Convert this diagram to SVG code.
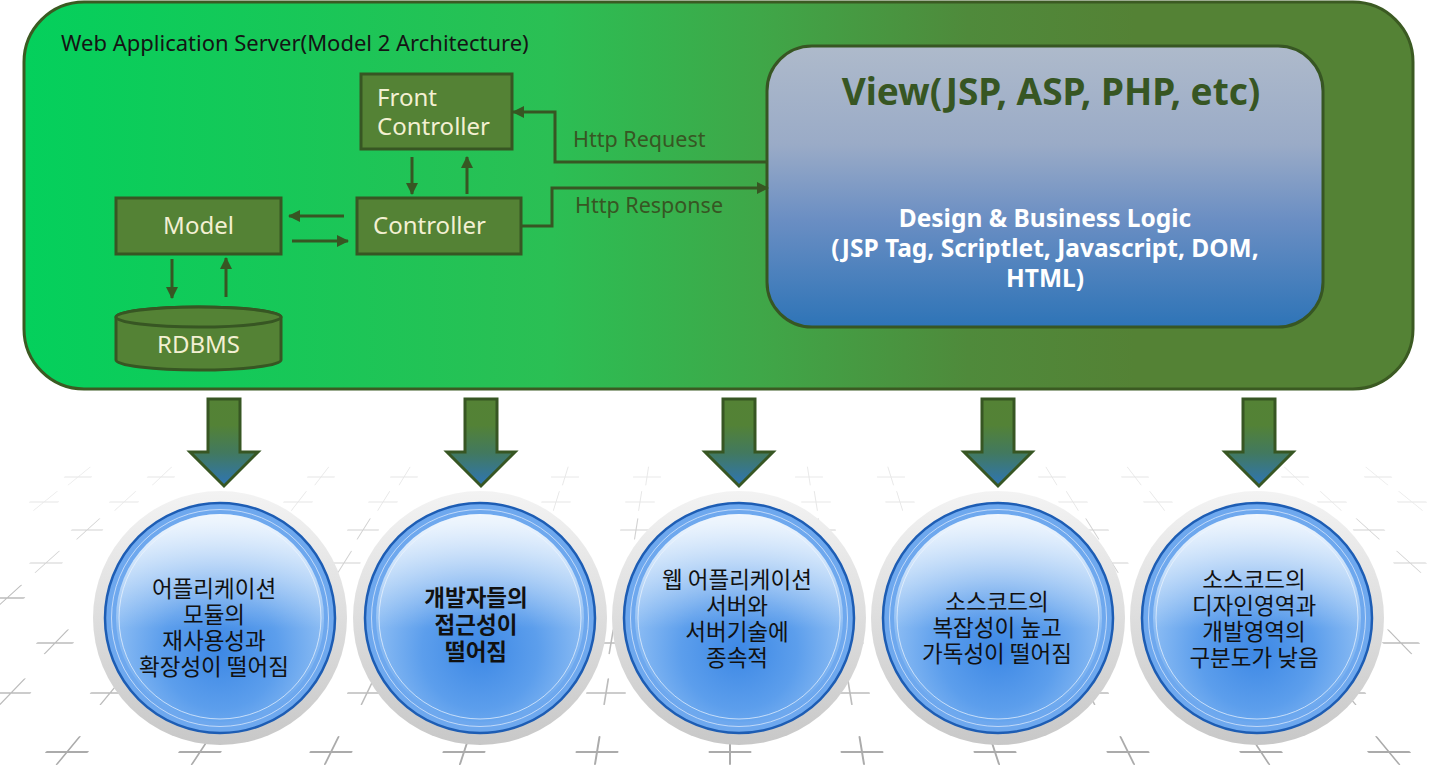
<svg xmlns="http://www.w3.org/2000/svg" width="1433" height="780" viewBox="0 0 1433 780">
<style>
.box{fill:#548235;stroke:#375623;stroke-width:3}
.bt{font-family:"Noto Sans","Liberation Sans",sans-serif;font-size:24px;fill:#f3f0d2}
.lbl{font-family:"Noto Sans","Liberation Sans",sans-serif;font-size:21.5px;fill:#375623}
.ln{fill:none;stroke:#375623;stroke-width:3;marker-end:url(#ah)}
.kt{font-family:"Noto Sans CJK KR","Noto Sans",sans-serif;font-size:22.5px;fill:#111;text-anchor:middle}
.cr{fill:none;stroke-linecap:round}
</style>
<defs>
<linearGradient id="gWas" gradientUnits="userSpaceOnUse" x1="24" y1="0" x2="1413" y2="0">
<stop offset="0" stop-color="#04d05c"/>
<stop offset="0.38" stop-color="#2bbf54"/>
<stop offset="0.53" stop-color="#3fa748"/>
<stop offset="0.68" stop-color="#4f8a3b"/>
<stop offset="0.8" stop-color="#548235"/>
<stop offset="1" stop-color="#548235"/>
</linearGradient>
<linearGradient id="gView" x1="0" y1="0" x2="0" y2="1">
<stop offset="0" stop-color="#aebacb"/>
<stop offset="0.35" stop-color="#9aabc7"/>
<stop offset="0.62" stop-color="#6a8ec3"/>
<stop offset="1" stop-color="#2e74b7"/>
</linearGradient>
<linearGradient id="gArrow" x1="0" y1="0" x2="0" y2="1">
<stop offset="0" stop-color="#548235"/>
<stop offset="0.3" stop-color="#538236"/>
<stop offset="0.62" stop-color="#42795f"/>
<stop offset="1" stop-color="#2e75b6"/>
</linearGradient>
<linearGradient id="gHalo" x1="0" y1="0" x2="0" y2="1">
<stop offset="0" stop-color="#f3f3f3"/>
<stop offset="1" stop-color="#c8c8c8"/>
</linearGradient>
<radialGradient id="gInner" cx="0.5" cy="0.66" r="0.62">
<stop offset="0" stop-color="#3d88e5"/>
<stop offset="0.45" stop-color="#5c9eec"/>
<stop offset="1" stop-color="#a3cbf7"/>
</radialGradient>
<linearGradient id="gShine" x1="0" y1="0" x2="0" y2="1">
<stop offset="0" stop-color="#ffffff" stop-opacity="0.85"/>
<stop offset="0.55" stop-color="#ffffff" stop-opacity="0"/>
</linearGradient>
<marker id="ah" viewBox="0 0 12 12" refX="11" refY="6" markerWidth="12" markerHeight="12" markerUnits="userSpaceOnUse" orient="auto">
<path d="M0,0 L12,6 L0,12 z" fill="#375623"/>
</marker>
<g id="bubble">
<circle r="127" fill="url(#gHalo)"/>
<circle r="115" fill="#6ea8ee" stroke="#1d5db4" stroke-width="2.5"/>
<circle r="108.5" fill="none" stroke="#d4e5fb" stroke-width="1" opacity="0.8"/>
<circle r="104" fill="url(#gInner)"/>
<circle r="104" fill="url(#gShine)"/>
<circle r="101" fill="none" stroke="#eef5fe" stroke-width="1" opacity="0.7"/>
</g>
<path id="cr" d="M-20.5,0H20.5M0,-15V12"/>
</defs>

<rect width="1433" height="780" fill="#ffffff"/>

<g id="floor" class="cr">
<g stroke="#ababab" stroke-width="2">
<use href="#cr" transform="translate(67,752) skewX(-39.5)"/>
<use href="#cr" transform="translate(200,752) skewX(-33.4)"/>
<use href="#cr" transform="translate(331,752) skewX(-26.3)"/>
<use href="#cr" transform="translate(464,752) skewX(-18.2)"/>
<use href="#cr" transform="translate(597,752) skewX(-9.3)"/>
<use href="#cr" transform="translate(730,752)"/>
<use href="#cr" transform="translate(862,752) skewX(9.3)"/>
<use href="#cr" transform="translate(995,752) skewX(18.2)"/>
<use href="#cr" transform="translate(1128,752) skewX(26.3)"/>
<use href="#cr" transform="translate(1261,752) skewX(33.4)"/>
<use href="#cr" transform="translate(1389,752) skewX(39.5)"/>
</g>
<g stroke="#bcbcbc" stroke-width="1.8">
<use href="#cr" transform="translate(11,693) scale(0.93) skewX(-44)"/>
<use href="#cr" transform="translate(110,693) scale(0.93) skewX(-39.8)"/>
<use href="#cr" transform="translate(367,693) scale(0.93) skewX(-25.9)"/>
<use href="#cr" transform="translate(606,693) scale(0.93) skewX(-9.3)"/>
<use href="#cr" transform="translate(850,693) scale(0.93) skewX(9.3)"/>
<use href="#cr" transform="translate(1089,693) scale(0.93) skewX(25.9)"/>
<use href="#cr" transform="translate(1346,693) scale(0.93) skewX(39.8)"/>
<use href="#cr" transform="translate(55,643) scale(0.87) skewX(-44.2)"/>
<use href="#cr" transform="translate(611,643) scale(0.87) skewX(-9.6)"/>
<use href="#cr" transform="translate(845,643) scale(0.87) skewX(9.6)"/>
<use href="#cr" transform="translate(1401,643) scale(0.87) skewX(44.2)"/>
<use href="#cr" transform="translate(7,598) scale(0.83) skewX(-48)"/>
</g>
<g stroke="#d2d2d2" stroke-width="1.5">
<use href="#cr" transform="translate(46,563) scale(0.78) skewX(-48)"/>
<use href="#cr" transform="translate(344,563) scale(0.78) skewX(-32)"/>
<use href="#cr" transform="translate(1112,563) scale(0.78) skewX(32)"/>
<use href="#cr" transform="translate(1410,563) scale(0.78) skewX(48)"/>
<use href="#cr" transform="translate(87,530) scale(0.75) skewX(-47.9)"/>
<use href="#cr" transform="translate(363,530) scale(0.75) skewX(-32.2)"/>
<use href="#cr" transform="translate(636,530) scale(0.75) skewX(-9)"/>
<use href="#cr" transform="translate(820,530) scale(0.75) skewX(9)"/>
<use href="#cr" transform="translate(1093,530) scale(0.75) skewX(32.2)"/>
<use href="#cr" transform="translate(1369,530) scale(0.75) skewX(47.9)"/>
</g>
<g stroke="#e6e6e6" stroke-width="1.3">
<use href="#cr" transform="translate(44,502) scale(0.7) skewX(-51)"/>
<use href="#cr" transform="translate(124,502) scale(0.7) skewX(-47.6)"/>
<use href="#cr" transform="translate(298,502) scale(0.7) skewX(-37.9)"/>
<use href="#cr" transform="translate(383,502) scale(0.7) skewX(-32)"/>
<use href="#cr" transform="translate(556,502) scale(0.7) skewX(-17.3)"/>
<use href="#cr" transform="translate(640,502) scale(0.7) skewX(-9.1)"/>
<use href="#cr" transform="translate(816,502) scale(0.7) skewX(9.1)"/>
<use href="#cr" transform="translate(900,502) scale(0.7) skewX(17.3)"/>
<use href="#cr" transform="translate(1073,502) scale(0.7) skewX(32)"/>
<use href="#cr" transform="translate(1158,502) scale(0.7) skewX(37.9)"/>
<use href="#cr" transform="translate(1332,502) scale(0.7) skewX(47.6)"/>
<use href="#cr" transform="translate(1412,502) scale(0.7) skewX(51)"/>
<use href="#cr" transform="translate(78,477) scale(0.66) skewX(-51)"/>
<use href="#cr" transform="translate(161,477) scale(0.66) skewX(-47)"/>
<use href="#cr" transform="translate(321,477) scale(0.66) skewX(-37.7)"/>
<use href="#cr" transform="translate(404,477) scale(0.66) skewX(-31.6)"/>
<use href="#cr" transform="translate(565,477) scale(0.66) skewX(-17.2)"/>
<use href="#cr" transform="translate(647,477) scale(0.66) skewX(-8.7)"/>
<use href="#cr" transform="translate(809,477) scale(0.66) skewX(8.7)"/>
<use href="#cr" transform="translate(891,477) scale(0.66) skewX(17.2)"/>
<use href="#cr" transform="translate(1052,477) scale(0.66) skewX(31.6)"/>
<use href="#cr" transform="translate(1135,477) scale(0.66) skewX(37.7)"/>
<use href="#cr" transform="translate(1295,477) scale(0.66) skewX(47)"/>
<use href="#cr" transform="translate(1378,477) scale(0.66) skewX(51)"/>
</g>
</g>

<g id="was">
<rect x="24" y="2" width="1389" height="387" rx="60" fill="url(#gWas)" stroke="#3b5a22" stroke-width="3"/>
<text x="61" y="51" font-family="'Noto Sans','Liberation Sans',sans-serif" font-size="22" fill="#141414">Web Application Server(Model 2 Architecture)</text>
</g>

<g id="view">
<rect x="767" y="46" width="556" height="281" rx="45" fill="url(#gView)" stroke="#375623" stroke-width="3"/>
<text x="1051" y="105" text-anchor="middle" font-family="'Noto Sans','Liberation Sans',sans-serif" font-weight="bold" font-size="37" fill="#375623">View(JSP, ASP, PHP, etc)</text>
<g font-family="'Noto Sans','Liberation Sans',sans-serif" font-weight="bold" font-size="24.5" fill="#ffffff" text-anchor="middle">
<text x="1045" y="227">Design &amp; Business Logic</text>
<text x="1045" y="257">(JSP Tag, Scriptlet, Javascript, DOM,</text>
<text x="1045" y="287">HTML)</text>
</g>
</g>

<g id="front-controller">
<rect class="box" x="361" y="74" width="151" height="75"/>
<text class="bt" x="377" y="106">Front</text>
<text class="bt" x="377" y="135">Controller</text>
</g>

<g id="controller">
<rect class="box" x="357" y="198" width="164" height="56"/>
<text class="bt" x="373" y="234">Controller</text>
</g>

<g id="model">
<rect class="box" x="116" y="198" width="165" height="56"/>
<text class="bt" x="198.5" y="234" text-anchor="middle" font-size="22">Model</text>
</g>

<g id="rdbms">
<path class="box" d="M116,317 V360 A82.5,10 0 0 0 281,360 V317 A82.5,10 0 0 0 116,317 Z"/>
<ellipse cx="198.5" cy="317" rx="82.5" ry="10" fill="#548235" stroke="#375623" stroke-width="3"/>
<text class="bt" x="198.5" y="353" text-anchor="middle" font-size="25">RDBMS</text>
</g>

<g id="connectors">
<line class="ln" x1="412" y1="157" x2="412" y2="194"/>
<line class="ln" x1="467" y1="194" x2="467" y2="157"/>
<line class="ln" x1="344" y1="216" x2="289" y2="216"/>
<line class="ln" x1="292" y1="241" x2="348" y2="241"/>
<line class="ln" x1="172" y1="259" x2="172" y2="298"/>
<line class="ln" x1="226" y1="297" x2="226" y2="258"/>
<polyline class="ln" points="767,162 555,162 555,112 513,112"/>
<polyline class="ln" points="521,226 552,226 552,188 768,188"/>
<text class="lbl" x="573" y="147">Http Request</text>
<text class="lbl" x="575" y="213">Http Response</text>
<g id="block-arrows" fill="url(#gArrow)" stroke="#375623" stroke-width="3" stroke-linejoin="miter">
<path d="M208,399 H240 V452 H258 L224,486 L190,452 H208 Z"/>
<path d="M465,399 H497 V452 H515 L481,486 L447,452 H465 Z"/>
<path d="M723,399 H755 V452 H773 L739,486 L705,452 H723 Z"/>
<path d="M982,399 H1014 V452 H1032 L998,486 L964,452 H982 Z"/>
<path d="M1243,399 H1275 V452 H1293 L1259,486 L1225,452 H1243 Z"/>
</g>
</g>

<g id="issue-1">
<use href="#bubble" x="220" y="618"/>
<text class="kt"><tspan x="214" y="597">어플리케이션</tspan><tspan x="214" y="623">모듈의</tspan><tspan x="214" y="649">재사용성과</tspan><tspan x="214" y="675">확장성이 떨어짐</tspan></text>
</g>
<g id="issue-2">
<use href="#bubble" x="480" y="618"/>
<text class="kt" font-weight="bold"><tspan x="476" y="606">개발자들의</tspan><tspan x="476" y="633">접근성이</tspan><tspan x="476" y="660">떨어짐</tspan></text>
</g>
<g id="issue-3">
<use href="#bubble" x="739" y="618"/>
<text class="kt"><tspan x="737" y="588">웹 어플리케이션</tspan><tspan x="737" y="614">서버와</tspan><tspan x="737" y="640">서버기술에</tspan><tspan x="737" y="666">종속적</tspan></text>
</g>
<g id="issue-4">
<use href="#bubble" x="998" y="618"/>
<text class="kt"><tspan x="997" y="610">소스코드의</tspan><tspan x="997" y="636">복잡성이 높고</tspan><tspan x="997" y="662">가독성이 떨어짐</tspan></text>
</g>
<g id="issue-5">
<use href="#bubble" x="1257" y="618"/>
<text class="kt"><tspan x="1254" y="588">소스코드의</tspan><tspan x="1254" y="614">디자인영역과</tspan><tspan x="1254" y="640">개발영역의</tspan><tspan x="1254" y="666">구분도가 낮음</tspan></text>
</g>
</svg>
